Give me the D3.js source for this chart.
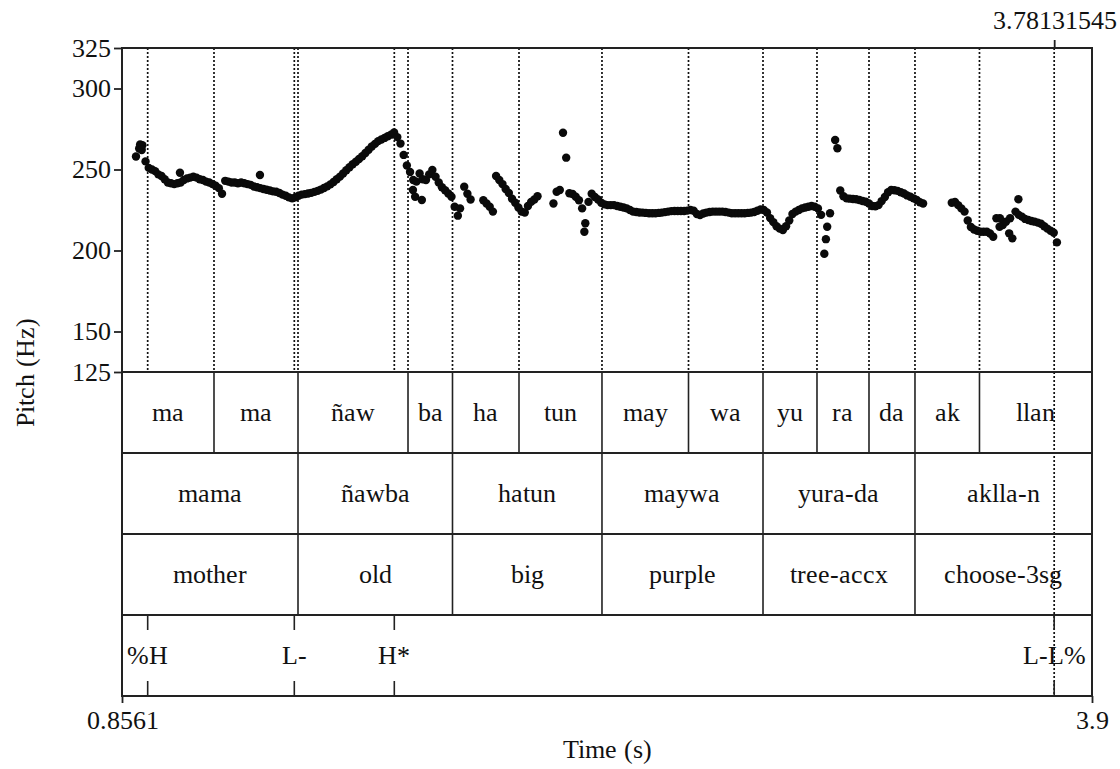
<!DOCTYPE html>
<html>
<head>
<meta charset="utf-8">
<script src="https://cdn.jsdelivr.net/npm/d3@7"></script>
<style>
  @font-face {
    font-family: 'PraatSerif';
    src: local('Liberation Serif'), local('LiberationSerif'), local('LiberationSerif-Regular');
  }
  html, body { margin: 0; padding: 0; background: #fff; }
  #chart text { font-family: 'PraatSerif', 'Liberation Serif' !important; }
</style>
</head>
<body>
<svg id="chart"></svg>
<script>
// time range and marks
const tStart = 0.8561;
const tEnd = 3.9;
const markTime = 3.78131545;
const yTicks = [125, 150, 200, 250, 300, 325];
const frameStep = 0.01;

// pitch track, one value per 10 ms frame (Hz)
const seg1Start = 0.90;
const seg1Hz = [258, 263, 265, 255, 251, 250, 249, 247, 246, 244,
  242, 241.5, 241, 241.5, 242, 243.5, 244.5, 245, 245.5, 245,
  244, 243.5, 242.5, 242, 241, 240, 238.5, 235, 243, 242.5,
  242, 242, 241.5, 242, 241.5, 241, 240.5, 239.5, 239, 238.5,
  238, 237.5, 237, 236.5, 236.3, 235.5, 234.5, 233.8, 232.8, 232.2,
  232.8, 233.8, 234.5, 234.8, 235.2, 235.6, 236.2, 236.8, 237.6, 238.6,
  239.6, 240.8, 242.3, 244, 245.6, 247.5, 249.5, 251.4, 253.2, 254.8,
  256.5, 258.2, 260.2, 262.2, 264.2, 265.8, 267.5, 268.5, 269.5, 270.5,
  271.5, 272.8, 270, 266, 259, 252.5, 248.5, 243.5, 242.5, 247.5,
  244, 243.5, 247, 249.7, 245.5, 242, 239, 237.2, 235.2, 233.2,
  227, 221.5];
const seg2Start = 1.93;
const seg2Hz = [239.4, 235, 231.5];
const seg3Start = 1.99;
const seg3Hz = [231, 229, 227, 224, 246, 243.5, 241, 238, 235.5, 232,
  229.5, 226.5, 224, 223.5, 227.5, 230, 231.5, 233.5];
const seg4Start = 2.21;
const seg4Hz = [229, 236.3, 237.3, 272.7, 257.3, 235.3, 234.9, 233.2, 231, 226,
  216.8, 230, 235, 233, 231.5, 229.5, 228.5, 228, 228, 228,
  227.5, 227, 226.5, 226, 225, 224, 223.8, 223.5, 223.4, 223.2,
  223, 223, 223, 223.2, 223.4, 223.7, 224, 224.3, 224.4, 224.4,
  224.4, 224.4, 224.6, 225, 224.5, 222.5, 221.9, 222.8, 223.4, 223.8,
  224, 224, 224, 224, 223.8, 223.4, 223, 223, 223, 223,
  223, 223.2, 223.4, 223.8, 224.5, 225.3, 225, 223.5, 220, 217.5,
  215, 213.5, 212.7, 215, 218.5, 222.5, 224, 225, 226, 226.5,
  227, 227.5, 227, 226, 222];
const seg5Start = 3.11;
const seg5Hz = [237, 233.5, 232.2, 232, 231.8, 231.6, 231.2, 230.6, 230.1, 229,
  227.5, 227.3, 228, 230.5, 233, 236, 237.3, 237.2, 236.8, 236,
  235.2, 234, 233.2, 232.2, 231.2, 229.8, 229];
const seg6Start = 3.46;
const seg6Hz = [229.5, 230, 228, 226, 224, 218.5, 214.5, 213, 212.2, 211.6,
  211.6, 211.6, 210.5, 208.5, 219.9, 214.7, 215.7, 217.8, 210.6, 207.5,
  224, 222, 220.9, 219.5, 218.8, 218.2, 217.8, 217.2, 216.5, 215,
  213.5, 212.2, 211, 205];

// stray candidates off the main track [time, Hz]
const strayPoints = [[0.913, 265.5], [0.918, 262], [1.038, 248], [1.289, 246.6],
  [1.769, 237.3], [1.776, 233.2], [1.797, 231.2], [1.917, 226], [2.307, 211.6],
  [3.060, 198], [3.065, 207], [3.069, 214.7], [3.078, 223], [3.094, 268.2],
  [3.101, 263.1], [3.611, 219.9], [3.643, 219.9], [3.669, 231.6]];

// annotation tiers
const syllableBounds = [1.1448, 1.4084, 1.7536, 1.8932, 2.1019, 2.3623, 2.6338,
  2.8676, 3.0370, 3.2002, 3.3445, 3.5469];
const syllableLabels = ['ma', 'ma', 'ñaw', 'ba', 'ha', 'tun', 'may', 'wa', 'yu', 'ra', 'da', 'ak', 'llan'];
const wordBounds = [1.4084, 1.8932, 2.3623, 2.8676, 3.3445];
const wordLabels = ['mama', 'ñawba', 'hatun', 'maywa', 'yura-da', 'aklla-n'];
const glossLabels = ['mother', 'old', 'big', 'purple', 'tree-accx', 'choose-3sg'];
const tonePoints = [0.9367, 1.3968, 1.7106, 3.78131545];
const toneLabels = ['%H', 'L-', 'H*', 'L-L%'];

const width = 1120, height = 769;
const plotLeft = 122, plotRight = 1092, plotTop = 48, pitchBottom = 372, tierH = 81;
const plotBottom = pitchBottom + tierH * 4;
const fontSize = 26;
const ink = '#222';

const svg = d3.select('#chart').attr('width', width).attr('height', height);

const x = d3.scaleLinear().domain([tStart, tEnd]).range([plotLeft, plotRight]);
const y = d3.scaleLinear().domain([125, 325]).range([pitchBottom, plotTop]);

const frames = (start, values) => values.map((hz, i) => [start + i * frameStep, hz]);
const pitchPoints = [
  ...frames(seg1Start, seg1Hz),
  ...frames(seg2Start, seg2Hz),
  ...frames(seg3Start, seg3Hz),
  ...frames(seg4Start, seg4Hz),
  ...frames(seg5Start, seg5Hz),
  ...frames(seg6Start, seg6Hz),
  ...strayPoints
];

// dotted boundary lines over the pitch area
const dotted = svg.append('g')
  .attr('stroke', '#111')
  .attr('stroke-width', 1.7)
  .attr('stroke-dasharray', '2 2');

dotted.selectAll('line.b')
  .data(syllableBounds.concat(tonePoints.slice(0, 3)))
  .enter().append('line')
  .attr('class', 'b')
  .attr('x1', d => x(d)).attr('x2', d => x(d))
  .attr('y1', plotTop).attr('y2', pitchBottom);

// marker line through the whole picture
dotted.append('line')
  .attr('x1', x(markTime)).attr('x2', x(markTime))
  .attr('y1', plotTop).attr('y2', plotBottom);

// pitch dots
svg.append('g')
  .selectAll('circle')
  .data(pitchPoints)
  .enter().append('circle')
  .attr('cx', d => x(d[0]))
  .attr('cy', d => y(d[1]))
  .attr('r', 4.2)
  .attr('fill', '#0a0a0a');

// tiers
const tierTop = i => pitchBottom + i * tierH;

function addText(g, xPos, yPos, str) {
  return g.append('text')
    .attr('x', xPos)
    .attr('y', yPos)
    .attr('text-anchor', 'middle')
    .attr('font-size', fontSize)
    .attr('fill', '#111')
    .text(str);
}

function drawIntervalTier(i, bounds, labels) {
  const g = svg.append('g');
  const edges = [tStart, ...bounds, tEnd];
  g.selectAll('line')
    .data(bounds)
    .enter().append('line')
    .attr('x1', d => x(d)).attr('x2', d => x(d))
    .attr('y1', tierTop(i)).attr('y2', tierTop(i + 1))
    .attr('stroke', ink)
    .attr('stroke-width', 1.6);
  labels.forEach((d, j) => {
    addText(g, (x(edges[j]) + x(edges[j + 1])) / 2, tierTop(i) + tierH / 2 + 8, d);
  });
}

drawIntervalTier(0, syllableBounds, syllableLabels);
drawIntervalTier(1, wordBounds, wordLabels);
drawIntervalTier(2, wordBounds, glossLabels);

// tone point tier
const toneG = svg.append('g');
const toneTop = tierTop(3), toneBottom = tierTop(4);
tonePoints.forEach((t, j) => {
  toneG.append('line')
    .attr('x1', x(t)).attr('x2', x(t))
    .attr('y1', toneTop).attr('y2', toneTop + 15)
    .attr('stroke', ink).attr('stroke-width', 1.6);
  toneG.append('line')
    .attr('x1', x(t)).attr('x2', x(t))
    .attr('y1', toneBottom - 15).attr('y2', toneBottom)
    .attr('stroke', ink).attr('stroke-width', 1.6);
  addText(toneG, x(t), toneTop + tierH / 2 + 8, toneLabels[j]);
});

// horizontal tier separators
svg.append('g')
  .selectAll('line')
  .data([1, 2, 3])
  .enter().append('line')
  .attr('x1', plotLeft).attr('x2', plotRight)
  .attr('y1', d => tierTop(d)).attr('y2', d => tierTop(d))
  .attr('stroke', ink)
  .attr('stroke-width', 1.8);

svg.append('line')
  .attr('x1', plotLeft).attr('x2', plotRight)
  .attr('y1', pitchBottom).attr('y2', pitchBottom)
  .attr('stroke', ink).attr('stroke-width', 2);

// frame
svg.append('rect')
  .attr('x', plotLeft).attr('y', plotTop)
  .attr('width', plotRight - plotLeft).attr('height', plotBottom - plotTop)
  .attr('fill', 'none')
  .attr('stroke', ink)
  .attr('stroke-width', 2);

// axes
function styleAxis(g) {
  g.attr('font-size', fontSize).attr('font-family', null);
  g.select('.domain').remove();
  g.selectAll('.tick line').attr('stroke', ink).attr('stroke-width', 1.8);
  g.selectAll('.tick text').attr('fill', '#111');
}

svg.append('g')
  .attr('transform', `translate(${plotLeft},0)`)
  .call(d3.axisLeft(y).tickValues(yTicks).tickSize(8).tickPadding(3).tickFormat(d3.format('d')))
  .call(styleAxis);

svg.append('g')
  .attr('transform', `translate(0,${plotBottom})`)
  .call(d3.axisBottom(x).tickValues([tStart, tEnd]).tickSize(7).tickPadding(8)
    .tickFormat(d => d === tStart ? '0.8561' : '3.9'))
  .call(styleAxis);

svg.append('g')
  .attr('transform', `translate(0,${plotTop})`)
  .call(d3.axisTop(x).tickValues([markTime]).tickSize(8).tickPadding(11)
    .tickFormat(() => '3.78131545'))
  .call(styleAxis);

// axis titles
const titles = svg.append('g');
addText(titles, (plotLeft + plotRight) / 2, 758, 'Time (s)');
addText(titles, 0, 0, 'Pitch (Hz)')
  .attr('transform', `translate(34,${(plotTop + plotBottom) / 2}) rotate(-90)`);
</script>
</body>
</html>
